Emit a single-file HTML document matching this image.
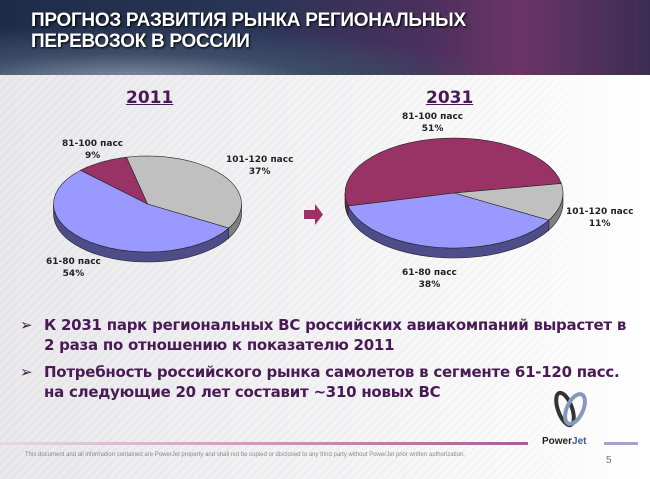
<!DOCTYPE html>
<html><head><meta charset="utf-8">
<style>
*{margin:0;padding:0;box-sizing:border-box}
body{width:650px;height:479px;overflow:hidden;position:relative;font-family:"DejaVu Sans","Liberation Sans",sans-serif;
background:repeating-linear-gradient(135deg,#f3f3f4 0 3px,#e9e9eb 3px 6px);}
#bg{position:absolute;left:0;top:0;width:650px;height:479px;background:linear-gradient(90deg,rgba(225,225,228,.5),rgba(255,255,255,.6) 80%,#fff)}
#header{position:absolute;left:0;top:0;width:650px;height:75px;
background:radial-gradient(ellipse at 20% 110%,#8a95a8 0,#3d4d68 25%,transparent 50%),linear-gradient(90deg,#1d2c48 0,#2a3556 40%,#4a2f5c 65%,#6b3566 80%,#3b2d52 100%);}
#title{position:absolute;left:31px;top:10px;color:#fff;font:bold 19px "Liberation Sans",sans-serif;line-height:21px;text-shadow:1px 1px 2px #000;letter-spacing:-.3px}
.yr{position:absolute;font:bold 17px "DejaVu Sans",sans-serif;color:#4a1a55;text-decoration:underline}
.lbl{position:absolute;font:bold 9px "DejaVu Sans",sans-serif;color:#222;text-align:center;line-height:12px;white-space:nowrap}
.bul{position:absolute;left:20px;color:#4a1a55;font:bold 15px "DejaVu Sans",sans-serif;line-height:19.5px;white-space:nowrap;letter-spacing:-.25px}
.bul span.m{position:absolute;left:0;font-size:15px;top:0}
.bul div{margin-left:24px}
</style></head><body>
<div id="bg"></div>
<div id="header"></div>
<div id="title">ПРОГНОЗ РАЗВИТИЯ РЫНКА РЕГИОНАЛЬНЫХ<br>ПЕРЕВОЗОК В РОССИИ</div>
<div class="yr" style="left:126px;top:88px">2011</div>
<div class="yr" style="left:426px;top:88px">2031</div>
<svg id="charts" width="650" height="479" style="position:absolute;left:0;top:0">
<path d="M304 210 H315 V204 L323 214.5 L315 225 V219 H304 Z" fill="#993366"/>
</svg>
<div class="lbl" style="left:62px;top:138px">81-100 пасс<br>9%</div>
<div class="lbl" style="left:226px;top:154px">101-120 пасс<br>37%</div>
<div class="lbl" style="left:46px;top:256px">61-80 пасс<br>54%</div>
<div class="lbl" style="left:402px;top:111px">81-100 пасс<br>51%</div>
<div class="lbl" style="left:566px;top:206px">101-120 пасс<br>11%</div>
<div class="lbl" style="left:402px;top:267px">61-80 пасс<br>38%</div>
<div class="bul" style="top:316px"><span class="m">➢</span><div>К 2031 парк региональных ВС российских авиакомпаний вырастет в<br>2 раза по отношению к показателю 2011</div></div>
<div class="bul" style="top:363px"><span class="m">➢</span><div>Потребность российского рынка самолетов в сегменте 61-120 пасс.<br>на следующие 20 лет составит ~310 новых ВС</div></div>
<div style="position:absolute;left:0;top:442px;width:528px;height:3px;background:linear-gradient(90deg,#e8d8e6,#b05a92)"></div>
<div style="position:absolute;left:604px;top:442px;width:34px;height:3px;background:#a6a2cc"></div>
<svg style="position:absolute;left:553px;top:388px" width="36" height="42">
<ellipse cx="12" cy="21" rx="7" ry="17" fill="none" stroke="#333" stroke-width="4" transform="rotate(-20 12 21)"/>
<ellipse cx="22" cy="21" rx="8" ry="16" fill="none" stroke="#8899bb" stroke-width="4" transform="rotate(25 22 21)"/>
</svg>
<div style="position:absolute;left:542px;top:436px;font:bold 10px 'Liberation Sans',sans-serif;color:#222">Power<span style="color:#3a5aa0">Jet</span></div>
<div style="position:absolute;left:25px;top:452px;font:6px 'Liberation Sans',sans-serif;color:#888;white-space:nowrap">This document and all information contained are PowerJet property and shall not be copied or disclosed to any third party without PowerJet prior written authorization.</div>
<div style="position:absolute;left:606px;top:455px;font:10px 'Liberation Sans',sans-serif;color:#777">5</div>
<script>
const categories=["101-120 пасс","61-80 пасс","81-100 пасс"];
const values2011=[37,54,9];
const values2031=[11,38,51];
const topColors=["#c0c0c0","#9999ff","#993366"];
const sideColors=["#808080","#4d4d8a","#6b2447"];
const svg=document.getElementById('charts');
const NS="http://www.w3.org/2000/svg";
function pt(p,a){return [p.cx+p.rx*Math.cos(a),p.cy+p.ry*Math.sin(a)];}
function arc(p,a0,a1,dy){let s="",n=30;for(let i=0;i<=n;i++){const a=a0+(a1-a0)*i/n;const q=pt(p,a);s+=(i?"L":"")+q[0].toFixed(1)+" "+(q[1]+dy).toFixed(1);}return s;}
function drawPie(p,vals,id){
  const tot=vals.reduce((a,b)=>a+b,0);let a=p.start;const segs=[];
  vals.forEach((v,i)=>{const b=a+v/tot*2*Math.PI;segs.push([a,b,i]);a=b;});
  segs.forEach(([a0,a1,i])=>{
    for(let k=-1;k<=2;k++){const lo=Math.max(a0,k*2*Math.PI),hi=Math.min(a1,k*2*Math.PI+Math.PI);
      if(hi>lo){const path=document.createElementNS(NS,'path');
        const back=arc(p,hi,lo,p.d).replace(/^/,'L');
        path.setAttribute('d','M'+arc(p,lo,hi,0)+back+'Z');
        path.setAttribute('fill',sideColors[i]);path.setAttribute('stroke','#222');path.setAttribute('stroke-width','0.6');
        
        
        svg.appendChild(path);}}
  });
  segs.forEach(([a0,a1,i])=>{
    const path=document.createElementNS(NS,'path');
    path.setAttribute('d','M'+p.cx+' '+p.cy+'L'+arc(p,a0,a1,0)+'Z');
    path.setAttribute('fill',topColors[i]);path.setAttribute('stroke','#222');path.setAttribute('stroke-width','0.6');
    
    
    svg.appendChild(path);
  });
}
drawPie({cx:147.5,cy:204,rx:94,ry:48,d:10,start:257*Math.PI/180},values2011,'pie-2011');
drawPie({cx:454,cy:193,rx:109,ry:55,d:10,start:350*Math.PI/180},values2031,'pie-2031');
</script>
</body></html>
